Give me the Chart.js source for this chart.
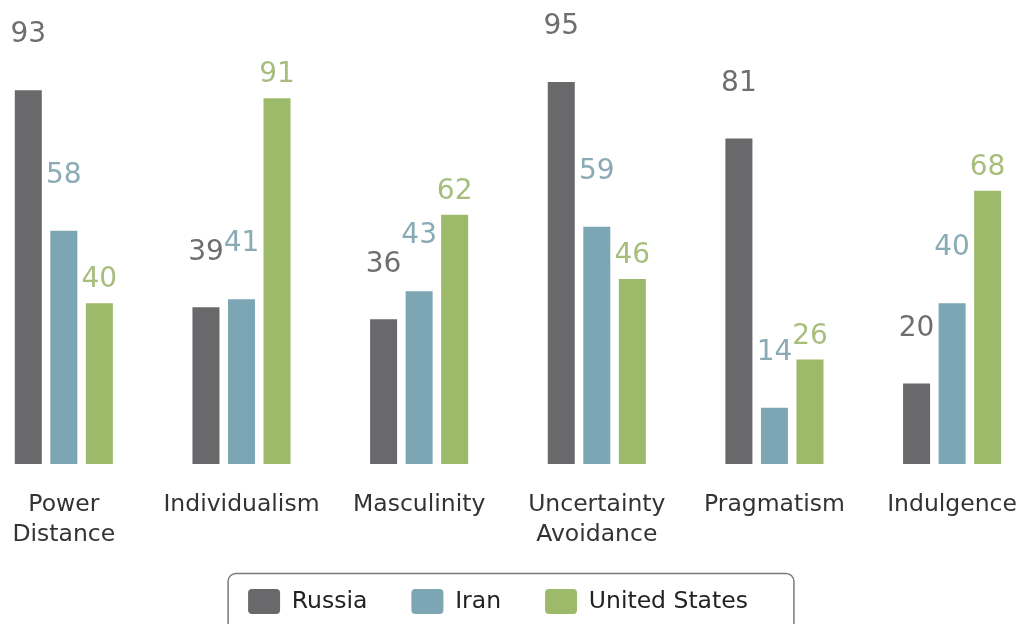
<!DOCTYPE html>
<html>
<head>
<meta charset="utf-8">
<script src="https://cdn.jsdelivr.net/npm/chart.js@4/dist/chart.umd.min.js"></script>
<style>
  html, body { margin: 0; padding: 0; background: #ffffff; overflow: hidden; width: 1021px; height: 624px; }
  #wrap { position: absolute; left: -25px; top: 0; width: 1068px; height: 624px; }
</style>
</head>
<body>
<div id="wrap"><canvas id="c"></canvas></div>
<script>
const categories = [["Power", "Distance"], "Individualism", "Masculinity", ["Uncertainty", "Avoidance"], "Pragmatism", "Indulgence"];
const seriesNames = ["Russia", "Iran", "United States"];
const russia = [93, 39, 36, 95, 81, 20];
const iran = [58, 41, 43, 59, 14, 40];
const unitedStates = [40, 91, 62, 46, 26, 68];

const barColors = ["#69696b", "#7ca6b3", "#9cba6a"];
const labelColors = ["#6e6e70", "#8aaab6", "#a7bd7c"];
const labelLift = [56, 56, 24];

const valueLabels = {
  id: 'valueLabels',
  afterDatasetsDraw(chart) {
    const ctx = chart.ctx;
    ctx.save();
    ctx.font = '28px "DejaVu Sans"';
    ctx.textAlign = 'center';
    ctx.textBaseline = 'middle';
    chart.data.datasets.forEach((ds, di) => {
      const meta = chart.getDatasetMeta(di);
      ctx.fillStyle = labelColors[di];
      meta.data.forEach((bar, i) => {
        ctx.fillText(String(ds.data[i]), bar.x, bar.y - labelLift[di] + 1);
      });
    });
    ctx.restore();
  }
};

const LEGEND_SHIFT = 11;
const legendShift = {
  id: 'legendShift',
  afterUpdate(chart) {
    const lg = chart.legend;
    if (!lg) return;
    lg.left -= LEGEND_SHIFT;
    lg.right -= LEGEND_SHIFT;
    (lg.legendHitBoxes || []).forEach(h => { h.left -= LEGEND_SHIFT; });
  }
};

const legendFrame = {
  id: 'legendFrame',
  afterDraw(chart) {
    const lg = chart.legend;
    if (!lg || !lg.legendHitBoxes || !lg.legendHitBoxes.length) return;
    const hb = lg.legendHitBoxes;
    const first = hb[0], last = hb[hb.length - 1];
    const cy = first.top + first.height / 2;
    const x0 = first.left - 20;
    const x1 = last.left + last.width + 46;
    const y0 = cy - 28;
    const h = 60;
    const ctx = chart.ctx;
    ctx.save();
    ctx.strokeStyle = '#7a7a7a';
    ctx.lineWidth = 1.5;
    ctx.beginPath();
    ctx.roundRect(x0, y0, x1 - x0, h, 8);
    ctx.stroke();
    ctx.restore();
  }
};

const PLOT_BOTTOM = 464;

new Chart(document.getElementById('c'), {
  type: 'bar',
  data: {
    labels: categories,
    datasets: [
      { label: seriesNames[0], data: russia, backgroundColor: barColors[0], borderWidth: 0 },
      { label: seriesNames[1], data: iran, backgroundColor: barColors[1], borderWidth: 0 },
      { label: seriesNames[2], data: unitedStates, backgroundColor: barColors[2], borderWidth: 0 }
    ]
  },
  options: {
    responsive: true,
    maintainAspectRatio: false,
    animation: false,
    devicePixelRatio: 1,
    layout: { padding: { top: 62, left: 0, right: 0, bottom: 0 } },
    datasets: { bar: { categoryPercentage: 0.6, barPercentage: 0.76 } },
    scales: {
      x: {
        grid: { display: false, drawTicks: false },
        border: { display: false },
        ticks: {
          padding: 26,
          color: '#333333',
          font: { family: '"DejaVu Sans"', size: 23.5, lineHeight: 1.28 },
          maxRotation: 0,
          autoSkip: false
        },
        afterFit(s) {
          const lh = s.chart.legend ? s.chart.legend.height : 0;
          s.height = s.chart.height - lh - PLOT_BOTTOM;
        }
      },
      y: {
        display: false,
        min: 0,
        max: 100
      }
    },
    plugins: {
      legend: {
        position: 'bottom',
        labels: {
          boxWidth: 32,
          boxHeight: 25,
          useBorderRadius: true,
          borderRadius: 4,
          padding: 44,
          color: '#222222',
          font: { family: '"DejaVu Sans"', size: 23.5 }
        }
      },
      tooltip: { enabled: false }
    }
  },
  plugins: [valueLabels, legendShift, legendFrame]
});
</script>
</body>
</html>
